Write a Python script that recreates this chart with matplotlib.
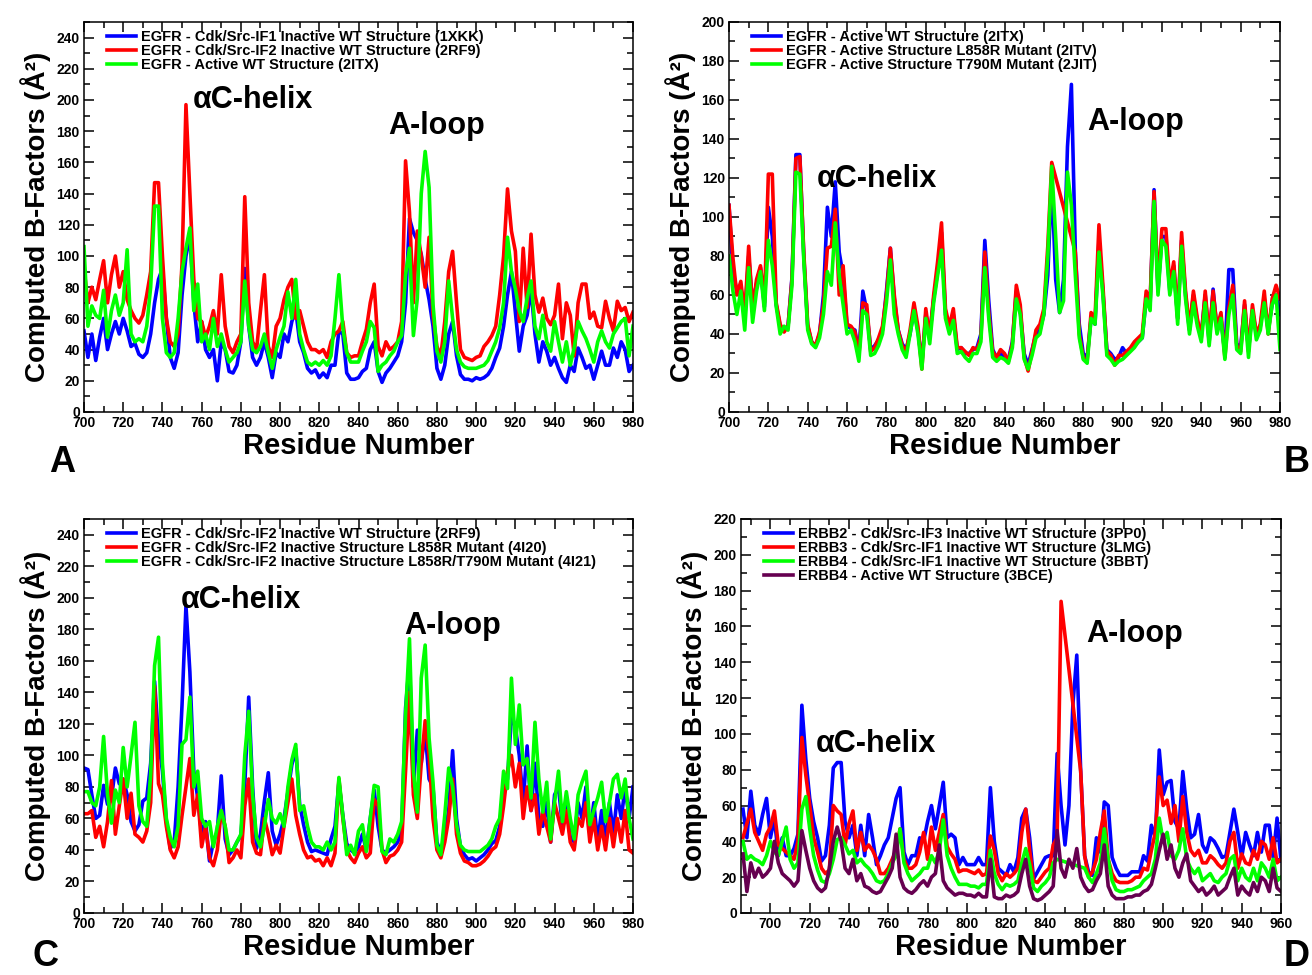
import matplotlib
matplotlib.use("Agg")
import matplotlib.pyplot as plt
from matplotlib.ticker import MultipleLocator

plt.rcParams["font.family"] = ["Liberation Sans", "DejaVu Sans"]
plt.rcParams["font.weight"] = "bold"

BLUE, RED, GREEN, PURPLE = "#0000ff", "#ff0000", "#00ff00", "#660050"

# ---------------- panel A ----------------
res_a = list(range(700, 981, 2))
a_1xkk = [52, 35, 50, 33, 48, 60, 40, 50, 58, 50,
          60, 52, 42, 44, 37, 35, 38, 50, 70, 85,
          92, 60, 35, 28, 38, 75, 100, 113, 70, 45,
          58, 40, 35, 40, 20, 45, 40, 26, 25, 30,
          45, 92, 55, 35, 30, 35, 45, 35, 22, 38,
          35, 50, 45, 58, 65, 45, 38, 28, 25, 27,
          22, 25, 22, 30, 30, 52, 50, 25, 21, 21,
          22, 26, 28, 40, 45, 26, 19, 25, 28, 32,
          36, 45, 70, 124, 115, 110, 101, 85, 72, 55,
          28, 21, 30, 50, 58, 36, 24, 21, 21, 20,
          22, 21, 22, 24, 28, 35, 41, 55, 75, 90,
          64, 39, 55, 62, 79, 50, 32, 45, 39, 30,
          35, 28, 22, 19, 30, 26, 41, 35, 28, 30,
          21, 30, 39, 30, 30, 41, 35, 45, 40, 26,
          30]
a_2rf9 = [92, 70, 80, 72, 85, 97, 70, 88, 100, 80,
          90, 72, 65, 60, 57, 62, 75, 90, 147, 147,
          100, 60, 45, 42, 50, 95, 197, 140, 85, 60,
          58, 48, 55, 65, 50, 88, 55, 42, 38, 45,
          50, 138, 70, 45, 40, 65, 88, 42, 35, 55,
          60, 72, 80, 85, 60, 65, 55, 45, 40, 40,
          38, 40, 35, 45, 50, 52, 58, 38, 35, 36,
          36, 45, 53, 70, 82, 42, 36, 45, 40, 42,
          45, 58, 161, 128, 70, 116, 100, 80, 112, 62,
          42, 36, 58, 90, 103, 70, 40, 35, 34, 33,
          35, 36, 42, 45, 49, 55, 75, 100, 143, 116,
          103, 58, 105, 67, 114, 75, 64, 73, 60, 56,
          62, 82, 47, 70, 62, 36, 70, 82, 82, 60,
          64, 55, 54, 71, 60, 52, 71, 65, 67, 58,
          64]
a_2itx = [106, 55, 68, 62, 60, 78, 48, 65, 75, 62,
          70, 104, 50, 45, 47, 45, 55, 80, 132, 132,
          60, 38, 35, 38, 60, 90, 105, 118, 65, 82,
          45, 50, 40, 60, 42, 50, 40, 32, 35, 38,
          45, 84, 55, 40, 38, 42, 50, 38, 28, 40,
          48, 55, 77, 60, 85, 50, 40, 32, 30, 32,
          30, 33, 30, 36, 60, 88, 54, 38, 32, 32,
          32, 39, 45, 58, 54, 26, 30, 32, 36, 39,
          45, 49, 88, 105, 49, 73, 140, 167, 144, 69,
          39, 32, 45, 84, 60, 40, 32, 29, 28, 28,
          28, 29, 30, 33, 39, 45, 54, 70, 112, 90,
          79, 65, 58, 73, 84, 55, 47, 62, 45, 39,
          58, 45, 32, 45, 30, 41, 58, 52, 47, 40,
          32, 45, 52, 45, 41, 50, 54, 58, 60, 36,
          55]

# ---------------- panel B ----------------
res_b = list(range(700, 981, 2))
res_b_2itv = list(range(700, 865, 2)) + list(range(876, 981, 2))
b_2itx = [106, 72, 62, 64, 48, 80, 55, 66, 74, 54,
          105, 90, 55, 44, 42, 44, 69, 132, 132, 80,
          44, 36, 34, 40, 60, 105, 90, 118, 82, 70,
          44, 43, 42, 30, 62, 52, 32, 34, 37, 42,
          62, 84, 58, 42, 35, 32, 40, 52, 42, 25,
          50, 40, 58, 72, 92, 50, 42, 50, 32, 33,
          30, 30, 32, 33, 40, 88, 57, 32, 28, 30,
          28, 27, 36, 62, 52, 30, 24, 32, 40, 42,
          50, 70, 120, 68, 51, 68, 136, 168, 82, 45,
          30, 28, 48, 45, 88, 62, 32, 30, 27, 28,
          33, 30, 32, 34, 36, 38, 58, 55, 114, 62,
          90, 90, 62, 75, 48, 88, 60, 42, 60, 46,
          40, 60, 36, 63, 42, 48, 30, 73, 73, 35,
          33, 55, 32, 52, 40, 44, 58, 42, 55, 60,
          50]
b_2itv = [106, 79, 60, 67, 50, 85, 52, 68, 75, 56,
          122, 122, 56, 45, 41, 44, 68, 130, 131, 82,
          45, 36, 34, 41, 55, 84, 85, 104, 60, 75,
          45, 44, 41, 29, 56, 55, 31, 33, 38, 44,
          60, 84, 60, 42, 34, 31, 42, 56, 44, 22,
          53, 38, 60, 77, 97, 53, 44, 53, 33, 33,
          31, 29, 33, 32, 38, 82, 51, 31, 28, 32,
          30, 26, 35, 65, 55, 28, 21, 31, 42, 45,
          53, 85, 128,
          82, 40, 28, 26, 51, 48, 96, 65, 31, 29, 24, 29,
          29, 31, 33, 36, 38, 40, 62, 57, 113, 65,
          94, 94, 65, 77, 48, 92, 62, 43, 62, 48,
          38, 62, 38, 62, 43, 51, 28, 53, 65, 34,
          31, 57, 31, 55, 40, 45, 62, 40, 58, 65,
          58]
b_2jit = [80, 62, 50, 62, 42, 74, 46, 62, 72, 52,
          88, 75, 54, 40, 44, 42, 65, 123, 122, 78,
          42, 35, 33, 38, 50, 72, 65, 97, 70, 55,
          40, 42, 36, 26, 52, 50, 29, 30, 34, 40,
          56, 78, 50, 40, 32, 28, 40, 52, 40, 22,
          48, 35, 56, 70, 83, 48, 40, 47, 30, 31,
          28, 26, 30, 30, 36, 74, 48, 28, 26, 28,
          27, 25, 33, 58, 50, 27, 22, 29, 38, 40,
          50, 80, 126, 90, 51, 57, 123, 106, 70, 38,
          27, 25, 48, 45, 82, 60, 29, 27, 24, 26,
          27, 29, 31, 33, 36, 38, 58, 52, 108, 60,
          88, 85, 60, 72, 45, 85, 58, 40, 56, 44,
          36, 56, 34, 56, 40, 48, 27, 50, 60, 32,
          30, 52, 28, 52, 37, 42, 56, 40, 55, 60,
          32]

# ---------------- panel C ----------------
res_c = list(range(700, 981, 2))
c_2rf9 = [92, 91, 75, 60, 62, 81, 69, 73, 92, 82,
          85, 75, 58, 52, 56, 71, 73, 95, 147, 110,
          90, 58, 41, 45, 80, 132, 195, 153, 90, 73,
          50, 58, 33, 45, 52, 87, 47, 37, 40, 45,
          49, 81, 137, 80, 41, 50, 71, 89, 52, 43,
          50, 60, 77, 94, 104, 69, 56, 45, 39, 40,
          39, 38, 37, 47, 55, 83, 62, 44, 40, 38,
          42, 50, 40, 60, 78, 55, 40, 38, 40, 42,
          45, 52, 130, 160, 80, 116, 95, 115, 85, 80,
          45, 38, 50, 65, 103, 60, 42, 37, 34, 35,
          33, 35, 37, 40, 44, 46, 55, 80, 85, 125,
          118, 100, 70, 106, 65, 95, 60, 55, 70, 45,
          75, 80, 55, 70, 48, 45, 70, 60, 80, 50,
          70, 45, 65, 45, 70, 50, 75, 60, 80, 60,
          80]
c_4i20 = [63, 63, 65, 48, 55, 42, 58, 84, 50, 68,
          85, 60, 76, 50, 48, 45, 52, 70, 144, 82,
          75, 55, 40, 35, 42, 62, 80, 98, 62, 75,
          42, 55, 35, 30, 40, 65, 55, 32, 35, 40,
          35, 68, 85, 45, 38, 37, 60, 50, 37, 43,
          38, 55, 70, 85, 62, 50, 40, 35, 36, 33,
          34, 30, 35, 30, 38, 85, 60, 40, 35, 32,
          38, 42, 35, 38, 72, 68, 40, 32, 36, 37,
          40, 45, 90, 140, 75, 60, 95, 122, 100, 60,
          40, 35, 45, 60, 85, 50, 38, 33, 32, 30,
          30, 31, 33, 36, 40, 42, 50, 68, 90, 100,
          80, 95, 60, 80, 65, 75, 50, 65, 55, 45,
          70, 60, 50, 65, 45, 40, 60, 55, 70, 45,
          60, 40, 55, 40, 60, 42, 60, 45, 65, 40,
          38]
c_4i21 = [77, 77, 70, 68, 80, 112, 75, 57, 78, 70,
          105, 80, 100, 121, 68, 58, 55, 88, 157, 175,
          95, 60, 48, 42, 55, 107, 110, 137, 80, 90,
          60, 55, 58, 42, 55, 65, 55, 40, 40, 45,
          50, 100, 128, 75, 48, 42, 55, 72, 60, 57,
          63, 55, 80, 97, 107, 65, 68, 55, 45, 42,
          42, 40, 45, 40, 45, 86, 62, 37, 43, 37,
          52, 56, 39, 60, 81, 80, 39, 37, 47, 45,
          50, 58, 126, 174, 90, 64, 149, 170, 111, 83,
          43, 37, 62, 92, 80, 56, 43, 40, 39, 39,
          39, 39, 41, 43, 47, 55, 60, 90, 79, 149,
          107, 132, 94, 98, 73, 121, 85, 64, 83, 47,
          70, 90, 58, 77, 60, 47, 75, 83, 90, 56,
          65, 73, 83, 58, 70, 85, 88, 73, 85, 60,
          47]

# ---------------- panel D ----------------
res_d = list(range(686, 961, 2))
res_d_3lmg = list(range(686, 849, 2)) + list(range(858, 961, 2))
res_d_3bbt = list(range(686, 847, 2)) + list(range(860, 961, 2))
d_3pp0 = [58, 42, 68, 49, 44, 55, 64, 42, 53, 32,
          42, 32, 32, 36, 44, 116, 86, 64, 51, 42,
          29, 32, 49, 81, 84, 84, 51, 42, 49, 32,
          49, 32, 55, 42, 27, 32, 38, 42, 53, 64,
          70, 34, 27, 32, 32, 42, 40, 51, 60, 47,
          60, 73, 42, 44, 42, 27, 31, 27, 27, 27,
          31, 27, 27, 70, 40, 25, 23, 21, 27, 23,
          31, 53, 58, 42, 19, 23, 27, 31, 32, 32,
          89, 60, 38, 60, 116, 144, 79, 32, 23, 21,
          42, 34, 62, 60, 31, 25, 21, 21, 21, 23,
          23, 23, 32, 29, 49, 42, 91, 66, 73, 74,
          51, 47, 79, 58, 42, 44, 55, 38, 34, 42,
          40, 36, 31, 32, 45, 58, 45, 31, 45, 38,
          32, 45, 34, 49, 49, 31, 53, 29]
d_3lmg = [42, 50, 58, 45, 40, 35, 44, 48, 57, 38,
          36, 34, 32, 30, 40, 98, 77, 60, 42, 34,
          25, 22, 24, 60, 57, 55, 38, 50, 57, 35,
          45, 35, 38, 35, 30, 22, 22, 25, 30, 35,
          47, 30, 25, 25, 27, 34, 45, 30, 48, 35,
          45, 55, 37, 33, 30, 23, 24, 24, 23, 22,
          24, 21, 22, 43, 35, 22, 18, 22, 20, 22,
          25, 45, 58, 35, 18, 17, 20, 23, 25, 38,
          42, 174,
          79, 32, 20, 23, 30, 45, 57, 30, 22, 18,
          17, 17, 17, 18, 20, 20, 25, 24, 35, 45,
          76, 60, 63, 50, 60, 40, 65, 45, 35, 32,
          35, 28, 28, 32, 30, 27, 25, 28, 40, 45,
          25, 33, 28, 27, 35, 30, 40, 38, 30, 42,
          28, 30]
d_3bbt = [40, 30, 32, 30, 29, 27, 32, 40, 34, 32,
          40, 48, 30, 25, 28, 58, 65, 47, 32, 24,
          18, 17, 22, 30, 41, 42, 38, 33, 35, 28,
          30, 27, 25, 22, 18, 17, 18, 22, 28, 32,
          47, 28, 22, 18, 20, 22, 25, 25, 32, 28,
          35, 52, 32, 25, 20, 16, 16, 16, 15, 15,
          14, 16, 16, 35, 22, 16, 13, 16, 15, 16,
          18, 28, 36, 27, 14, 12, 15, 17, 20, 28,
          30,
          25, 20, 17, 22, 28, 47, 30, 18, 13, 12,
          12, 13, 13, 14, 15, 18, 20, 22, 30, 53,
          40, 45, 32, 30, 35, 47, 30, 25, 22, 25,
          18, 20, 22, 18, 17, 20, 22, 30, 32, 18,
          25, 20, 18, 25, 18, 28, 25, 20, 30, 18,
          20]
d_3bce = [33, 12, 28, 20, 25, 20, 22, 25, 40, 28,
          22, 20, 18, 15, 18, 46, 35, 25, 18, 14,
          12, 14, 25, 40, 48, 40, 25, 22, 30, 18,
          22, 15, 14, 12, 11, 12, 16, 20, 25, 44,
          20, 14, 12, 11, 13, 16, 18, 15, 20, 22,
          38, 18, 14, 12, 10, 11, 11, 10, 10, 9,
          11, 9, 9, 30, 9, 8, 8, 10, 9, 10,
          12, 22, 30, 15, 8, 7, 8, 10, 12, 15,
          46, 25, 20, 30, 25, 36, 20, 15, 12, 13,
          18, 22, 38, 15, 10, 8, 8, 8, 9, 9,
          10, 10, 12, 13, 16, 25, 35, 44, 30, 38,
          25, 20, 28, 33, 18, 15, 12, 14, 10, 12,
          15, 10, 12, 14, 20, 25, 10, 15, 12, 10,
          17, 12, 20, 18, 12, 25, 14, 12]

W, H = 1312, 975
fig = plt.figure(figsize=(W / 100, H / 100), dpi=100)


def add_panel(left, top, right, bottom):
    return fig.add_axes([left / W, 1 - bottom / H, (right - left) / W, (bottom - top) / H])


def style(ax, xlim, ymax):
    ax.set_xlim(*xlim)
    ax.set_ylim(0, ymax)
    ax.xaxis.set_major_locator(MultipleLocator(20))
    ax.xaxis.set_minor_locator(MultipleLocator(10))
    ax.yaxis.set_major_locator(MultipleLocator(20))
    ax.yaxis.set_minor_locator(MultipleLocator(10))
    ax.tick_params(which="both", direction="in", top=True, right=True,
                   labelsize=10, width=1.1, pad=3)
    ax.tick_params(which="major", length=7.5)
    ax.tick_params(which="minor", length=4)
    for s in ax.spines.values():
        s.set_linewidth(1.1)
    ax.set_xlabel("Residue Number", fontsize=21, fontweight="bold", labelpad=1)
    ax.set_ylabel("Computed B-Factors (Å²)", fontsize=20, fontweight="bold", labelpad=4)
    ax.legend(loc="upper left", bbox_to_anchor=(0.042, 0.98), frameon=False,
              fontsize=10.5, handlelength=2.0, handletextpad=0.35, labelspacing=0.0,
              borderaxespad=0, borderpad=0)


lw = 2.6

axA = add_panel(84, 22, 633, 412)
axA.plot(res_a, a_1xkk, color=BLUE, lw=lw, label="EGFR - Cdk/Src-IF1 Inactive WT Structure (1XKK)")
axA.plot(res_a, a_2rf9, color=RED, lw=lw, label="EGFR - Cdk/Src-IF2 Inactive WT Structure (2RF9)")
axA.plot(res_a, a_2itx, color=GREEN, lw=lw, label="EGFR - Active WT Structure (2ITX)")
style(axA, (700, 980), 250)

axB = add_panel(729, 22, 1280, 412)
axB.plot(res_b, b_2itx, color=BLUE, lw=lw, label="EGFR - Active WT Structure (2ITX)")
axB.plot(res_b_2itv, b_2itv, color=RED, lw=lw, label="EGFR - Active Structure L858R Mutant (2ITV)")
axB.plot(res_b, b_2jit, color=GREEN, lw=lw, label="EGFR - Active Structure T790M Mutant (2JIT)")
style(axB, (700, 980), 200)

axC = add_panel(84, 519, 633, 913)
axC.plot(res_c, c_2rf9, color=BLUE, lw=lw, label="EGFR - Cdk/Src-IF2 Inactive WT Structure (2RF9)")
axC.plot(res_c, c_4i20, color=RED, lw=lw, label="EGFR - Cdk/Src-IF2 Inactive Structure L858R Mutant (4I20)")
axC.plot(res_c, c_4i21, color=GREEN, lw=lw, label="EGFR - Cdk/Src-IF2 Inactive Structure L858R/T790M Mutant (4I21)")
style(axC, (700, 980), 250)

axD = add_panel(741, 519, 1281, 913)
axD.plot(res_d, d_3pp0, color=BLUE, lw=lw, label="ERBB2 - Cdk/Src-IF3 Inactive WT Structure (3PP0)")
axD.plot(res_d_3lmg, d_3lmg, color=RED, lw=lw, label="ERBB3 - Cdk/Src-IF1 Inactive WT Structure (3LMG)")
axD.plot(res_d_3bbt, d_3bbt, color=GREEN, lw=lw, label="ERBB4 - Cdk/Src-IF1 Inactive WT Structure (3BBT)")
axD.plot(res_d, d_3bce, color=PURPLE, lw=lw, label="ERBB4 - Active WT Structure (3BCE)")
style(axD, (685, 960), 220)


def ftext(x, y, s, **kw):
    fig.text(x / W, 1 - y / H, s, fontweight="bold", **kw)


# region labels (pixel positions, baseline)
for x, y, s in [(253, 108, "αC-helix"), (437, 134, "A-loop"),
                (877, 187, "αC-helix"), (1136, 130, "A-loop"),
                (241, 608, "αC-helix"), (453, 634, "A-loop"),
                (876, 752, "αC-helix"), (1135, 642, "A-loop")]:
    ftext(x, y, s, fontsize=22, ha="center", va="baseline")

# panel letters
for x, y, s in [(62, 462, "A"), (1297, 462, "B"), (45, 957, "C"), (1297, 957, "D")]:
    ftext(x, y, s, fontsize=26, ha="center", va="center")

fig.savefig("out.png", dpi=100)
